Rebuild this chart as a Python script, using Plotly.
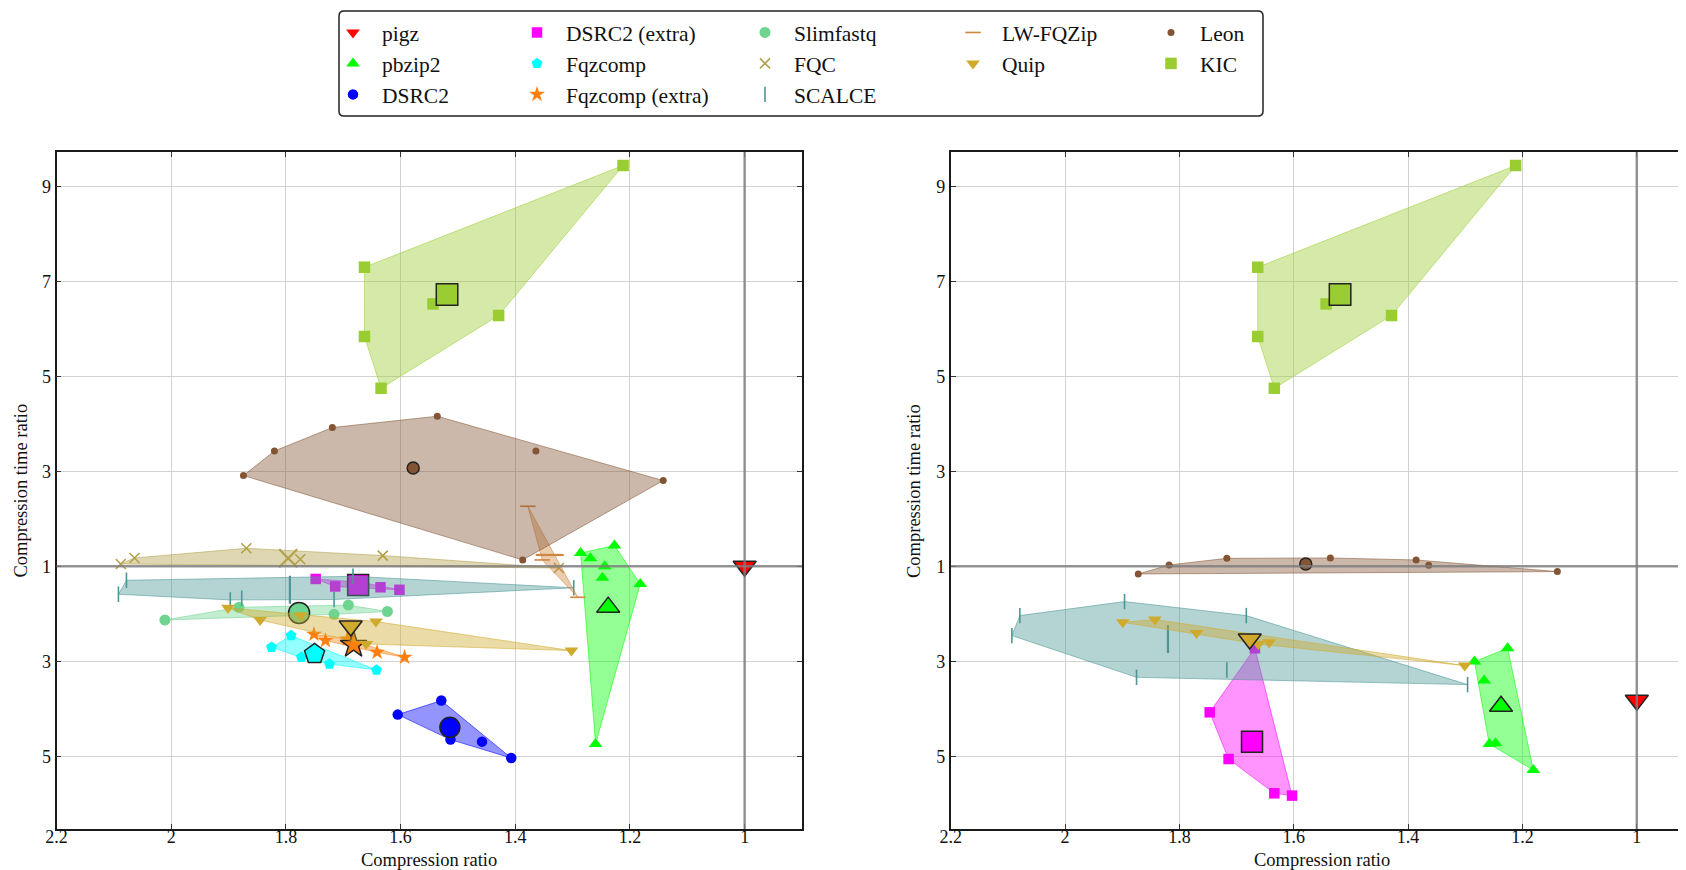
import plotly.graph_objects as go

W, H = 1686, 870
FONT = "serif"

# ---------------- data (plotted coordinates; y below 1 shown as inverse ratio) -------------
TOOLS = ["pigz", "pbzip2", "DSRC2", "DSRC2 (extra)", "Fqzcomp", "Fqzcomp (extra)",
         "Slimfastq", "FQC", "SCALCE", "LW-FQZip", "Quip", "Leon", "KIC"]

X_TICKS = [2.2, 2.0, 1.8, 1.6, 1.4, 1.2, 1.0]
X_TICK_TEXT = ["2.2", "2", "1.8", "1.6", "1.4", "1.2", "1"]
Y_TICKS = [9, 7, 5, 3, 1, -1, -3]
Y_TICK_TEXT = ["9", "7", "5", "3", "1", "3", "5"]

# left panel
l_pigz_x = [1.0]
l_pigz_y = [1.0]
l_pigz_mean = [1.0, 1.0]
l_pbzip2_x = [1.286, 1.269, 1.227, 1.244, 1.248, 1.182, 1.260]
l_pbzip2_y = [1.28, 1.168, 1.436, 1.0, 0.758, 0.627, -2.741]
l_pbzip2_mean = [1.238, 0.14]
l_dsrc2_x = [1.605, 1.529, 1.513, 1.458, 1.407]
l_dsrc2_y = [-2.122, -1.827, -2.648, -2.691, -3.036]
l_dsrc2_mean = [1.514, -2.389]
l_dsrc2x_x = [1.748, 1.714, 1.668, 1.635, 1.602]
l_dsrc2x_y = [0.733, 0.575, 0.66, 0.558, 0.505]
l_dsrc2x_mean = [1.674, 0.606]
l_fqz_x = [1.825, 1.791, 1.773, 1.724, 1.642]
l_fqz_y = [-0.705, -0.459, -0.916, -1.057, -1.183]
l_fqz_mean = [1.750, -0.846]
l_fqzx_x = [1.751, 1.731, 1.693, 1.641, 1.593]
l_fqzx_y = [-0.432, -0.564, -0.531, -0.811, -0.916]
l_fqzx_mean = [1.682, -0.653]
l_slim_x = [2.011, 1.882, 1.716, 1.691, 1.623]
l_slim_y = [-0.131, 0.137, -0.011, 0.183, 0.048]
l_slim_mean = [1.777, 0.017]
l_fqc_x = [2.088, 2.064, 1.869, 1.775, 1.631, 1.324]
l_fqc_y = [1.048, 1.175, 1.379, 1.147, 1.225, 0.964]
l_fqc_mean = [1.796, 1.168]
l_scalce_x = [2.078, 2.092, 1.897, 1.877, 1.716, 1.683, 1.298]
l_scalce_y = [0.705, 0.411, 0.291, 0.326, 0.301, 0.789, 0.547]
l_scalce_mean = [1.793, 0.505]
l_lw_x = [1.378, 1.353, 1.291]
l_lw_y = [2.263, 1.133, 0.347]
l_lw_mean = [1.340, 1.238]
l_quip_x = [1.901, 1.845, 1.774, 1.643, 1.660, 1.302]
l_quip_y = [0.126, -0.131, -0.032, -0.164, -0.636, -0.775]
l_quip_mean = [1.687, -0.257]
l_leon_x = [1.874, 1.820, 1.719, 1.536, 1.364, 1.142, 1.387]
l_leon_y = [2.909, 3.427, 3.920, 4.158, 3.427, 2.804, 1.133]
l_leon_mean = [1.578, 3.069]
l_kic_x = [1.663, 1.663, 1.634, 1.212, 1.5435, 1.429]
l_kic_y = [7.295, 5.836, 4.747, 9.436, 6.522, 6.278]
l_kic_mean = [1.519, 6.72]

# right panel
r_pigz_x = [1.0]
r_pigz_y = [-1.821]
r_pigz_mean = [1.0, -1.821]
r_pbzip2_x = [1.284, 1.267, 1.226, 1.258, 1.247, 1.181]
r_pbzip2_y = [-1.006, -1.406, -0.726, -2.741, -2.726, -3.288]
r_pbzip2_mean = [1.2375, -1.947]
r_dsrc2x_x = [1.747, 1.714, 1.668, 1.634, 1.603]
r_dsrc2x_y = [-2.074, -3.057, -0.726, -3.779, -3.827]
r_dsrc2x_mean = [1.673, -2.691]
r_scalce_x = [2.079, 2.093, 1.896, 1.875, 1.717, 1.683, 1.296]
r_scalce_y = [-0.038, -0.459, 0.257, -1.337, -1.183, -0.038, -1.491]
r_scalce_mean = [1.820, -0.531]
r_quip_x = [1.899, 1.843, 1.770, 1.662, 1.643, 1.301]
r_quip_y = [-0.179, -0.122, -0.404, -0.636, -0.600, -1.091]
r_quip_mean = [1.677, -0.531]
r_leon_x = [1.872, 1.818, 1.717, 1.536, 1.386, 1.364, 1.139]
r_leon_y = [0.838, 1.027, 1.168, 1.175, 1.133, 1.021, 0.888]
r_leon_mean = [1.579, 1.048]
r_kic_x = [1.663, 1.663, 1.634, 1.212, 1.5435, 1.429]
r_kic_y = [7.295, 5.836, 4.747, 9.436, 6.522, 6.278]
r_kic_mean = [1.519, 6.72]

LEFT = {
    "pigz": (l_pigz_x, l_pigz_y, l_pigz_mean),
    "pbzip2": (l_pbzip2_x, l_pbzip2_y, l_pbzip2_mean),
    "DSRC2": (l_dsrc2_x, l_dsrc2_y, l_dsrc2_mean),
    "DSRC2 (extra)": (l_dsrc2x_x, l_dsrc2x_y, l_dsrc2x_mean),
    "Fqzcomp": (l_fqz_x, l_fqz_y, l_fqz_mean),
    "Fqzcomp (extra)": (l_fqzx_x, l_fqzx_y, l_fqzx_mean),
    "Slimfastq": (l_slim_x, l_slim_y, l_slim_mean),
    "FQC": (l_fqc_x, l_fqc_y, l_fqc_mean),
    "SCALCE": (l_scalce_x, l_scalce_y, l_scalce_mean),
    "LW-FQZip": (l_lw_x, l_lw_y, l_lw_mean),
    "Quip": (l_quip_x, l_quip_y, l_quip_mean),
    "Leon": (l_leon_x, l_leon_y, l_leon_mean),
    "KIC": (l_kic_x, l_kic_y, l_kic_mean),
}
RIGHT = {
    "pigz": (r_pigz_x, r_pigz_y, r_pigz_mean),
    "pbzip2": (r_pbzip2_x, r_pbzip2_y, r_pbzip2_mean),
    "DSRC2 (extra)": (r_dsrc2x_x, r_dsrc2x_y, r_dsrc2x_mean),
    "SCALCE": (r_scalce_x, r_scalce_y, r_scalce_mean),
    "Quip": (r_quip_x, r_quip_y, r_quip_mean),
    "Leon": (r_leon_x, r_leon_y, r_leon_mean),
    "KIC": (r_kic_x, r_kic_y, r_kic_mean),
}

# ---------------- styles -------------
STYLE = {
    # name: color, symbol, point size, mean size, line-type symbol, legend
    "pigz": ("#ff0000", "triangle-down", 12, 20, False, "legend"),
    "pbzip2": ("#00ff00", "triangle-up", 12, 20, False, "legend"),
    "DSRC2": ("#0000ff", "circle", 10.5, 20, False, "legend"),
    "DSRC2 (extra)": ("#ff00ff", "square", 10.5, 21, False, "legend2"),
    "Fqzcomp": ("#00ffff", "pentagon", 11.5, 21, False, "legend2"),
    "Fqzcomp (extra)": ("#ff7f0e", "star", 12, 20, False, "legend2"),
    "Slimfastq": ("#6fd48f", "circle", 11, 21, False, "legend3"),
    "FQC": ("#b2a04a", "x-thin", 10, 18, True, "legend3"),
    "SCALCE": ("#4d9696", "line-ns", 11, 20, True, "legend3"),
    "LW-FQZip": ("#cd853f", "line-ew", 11, 20, True, "legend4"),
    "Quip": ("#d0aa2c", "triangle-down", 12, 20, False, "legend4"),
    "Leon": ("#845535", "circle", 7, 12, False, "legend5"),
    "KIC": ("#9acd32", "square", 11.5, 21.5, False, "legend5"),
}


def rgba(hexc, a):
    h = hexc.lstrip("#")
    r, g, b = int(h[0:2], 16), int(h[2:4], 16), int(h[4:6], 16)
    return f"rgba({r},{g},{b},{a})"


def convex_hull(xs, ys):
    pts = sorted(set(zip(xs, ys)))
    if len(pts) < 3:
        return pts

    def cross(o, a, b):
        return (a[0] - o[0]) * (b[1] - o[1]) - (a[1] - o[1]) * (b[0] - o[0])

    lower, upper = [], []
    for p in pts:
        while len(lower) >= 2 and cross(lower[-2], lower[-1], p) <= 0:
            lower.pop()
        lower.append(p)
    for p in reversed(pts):
        while len(upper) >= 2 and cross(upper[-2], upper[-1], p) <= 0:
            upper.pop()
        upper.append(p)
    return lower[:-1] + upper[:-1]


fig = go.Figure()


def add_panel(data, xa, ya, show_legend):
    for name in TOOLS:
        if name not in data:
            continue
        xs, ys, mean = data[name]
        color, sym, ps, ms, linesym, leg = STYLE[name]
        h = convex_hull(xs, ys)
        if len(h) >= 3:
            hx = [p[0] for p in h] + [h[0][0]]
            hy = [p[1] for p in h] + [h[0][1]]
            fig.add_trace(go.Scatter(
                x=hx, y=hy, mode="lines", fill="toself",
                fillcolor=rgba(color, 0.42), line=dict(color=rgba(color, 0.55), width=1),
                hoverinfo="skip", showlegend=False, xaxis=xa, yaxis=ya))
        if linesym:
            mk = dict(symbol=sym, size=ps, color=color, line=dict(color=color, width=1.6))
            mmk = dict(symbol=sym, size=ms, color=color, line=dict(color=color, width=2.2))
        else:
            mk = dict(symbol=sym, size=ps, color=color, line=dict(width=0))
            mmk = dict(symbol=sym, size=ms, color=color, line=dict(color="#222222", width=1.5))
        fig.add_trace(go.Scatter(
            x=xs, y=ys, mode="markers", marker=mk, name=name,
            showlegend=show_legend, legend=leg, xaxis=xa, yaxis=ya))
        fig.add_trace(go.Scatter(
            x=[mean[0]], y=[mean[1]], mode="markers", marker=mmk, name=name + " mean",
            showlegend=False, xaxis=xa, yaxis=ya))


add_panel(LEFT, "x", "y", True)
add_panel(RIGHT, "x2", "y2", False)

# ---------------- layout -------------
left_dom = [48.5 / W, 794 / W]
right_dom = [942.7 / W, 1.0]
y_dom = [1 - 821 / H, 1 - 144 / H]

axis_common = dict(
    showgrid=True, gridcolor="#d2d2d2", gridwidth=1, zeroline=False,
    showline=True, linecolor="#1a1a1a", linewidth=1.6,
    ticks="inside", ticklen=5, tickcolor="#333333", tickwidth=1,
    tickfont=dict(family=FONT, size=18, color="#111111"),
    automargin=False,
)

fig.update_layout(
    width=W, height=H,
    margin=dict(l=0, r=0, t=0, b=0),
    paper_bgcolor="white", plot_bgcolor="white",
    font=dict(family=FONT, size=18, color="#111111"),
    xaxis=dict(domain=left_dom, range=[2.2, 0.9], tickvals=X_TICKS, ticktext=X_TICK_TEXT,
               mirror="ticks", anchor="y", ticklabelstandoff=-9, **axis_common),
    yaxis=dict(domain=y_dom, range=[-4.53, 9.72], tickvals=Y_TICKS, ticktext=Y_TICK_TEXT,
               mirror="ticks", anchor="x", **axis_common),
    xaxis2=dict(domain=right_dom, range=[2.2, 0.9], tickvals=X_TICKS, ticktext=X_TICK_TEXT,
                mirror="ticks", anchor="y2", ticklabelstandoff=-9, **axis_common),
    yaxis2=dict(domain=y_dom, range=[-4.53, 9.72], tickvals=Y_TICKS, ticktext=Y_TICK_TEXT,
                mirror=False, anchor="x2", **axis_common),
    showlegend=True,
)

# legends (one per column)
leg_text_px = [384, 568, 796, 1004, 1202]
leg_names = ["legend", "legend2", "legend3", "legend4", "legend5"]
for lname, tx in zip(leg_names, leg_text_px):
    fig.update_layout({lname: dict(
        x=(tx - 68) / W, y=1 - 4 / H, xanchor="left", yanchor="top",
        orientation="v", bgcolor="rgba(0,0,0,0)", borderwidth=0,
        font=dict(family=FONT, size=21.5, color="#111111"), itemsizing="trace",
        itemwidth=48, tracegroupgap=0,
    )})

# legend frame (rounded rectangle)
x0, x1 = 331 / W, 1255 / W
y0, y1 = 1 - 108 / H, 1 - 3 / H
rx, ry = 5 / W, 5 / H
path = (f"M {x0+rx},{y1} L {x1-rx},{y1} Q {x1},{y1} {x1},{y1-ry} "
        f"L {x1},{y0+ry} Q {x1},{y0} {x1-rx},{y0} L {x0+rx},{y0} Q {x0},{y0} {x0},{y0+ry} "
        f"L {x0},{y1-ry} Q {x0},{y1} {x0+rx},{y1} Z")
fig.add_shape(type="path", path=path, xref="paper", yref="paper",
              line=dict(color="#222222", width=1.5), fillcolor="white", layer="below")

# reference lines at ratio 1
for xa, ya in [("x", "y"), ("x2", "y2")]:
    fig.add_shape(type="line", xref=xa, yref=ya, x0=1, x1=1, y0=-4.53, y1=9.72,
                  line=dict(color="rgba(125,125,125,0.8)", width=2.5), layer="above")
    fig.add_shape(type="line", xref=xa, yref=ya, x0=2.2, x1=0.9, y0=1, y1=1,
                  line=dict(color="rgba(125,125,125,0.8)", width=2.5), layer="above")

# axis titles
for cx in [(48.5 + 794) / 2, (942.7 + 1686) / 2]:
    fig.add_annotation(text="Compression ratio", x=cx / W, y=1 - 852 / H, xref="paper", yref="paper",
                       showarrow=False, font=dict(family=FONT, size=18.5, color="#111111"),
                       xanchor="center", yanchor="middle")
for cx in [12, 905.5]:
    fig.add_annotation(text="Compression time ratio", x=cx / W, y=1 - 482.5 / H, xref="paper",
                       yref="paper", showarrow=False, textangle=-90,
                       font=dict(family=FONT, size=18.5, color="#111111"),
                       xanchor="center", yanchor="middle")

fig.write_html("out.html", config={"displayModeBar": False})
